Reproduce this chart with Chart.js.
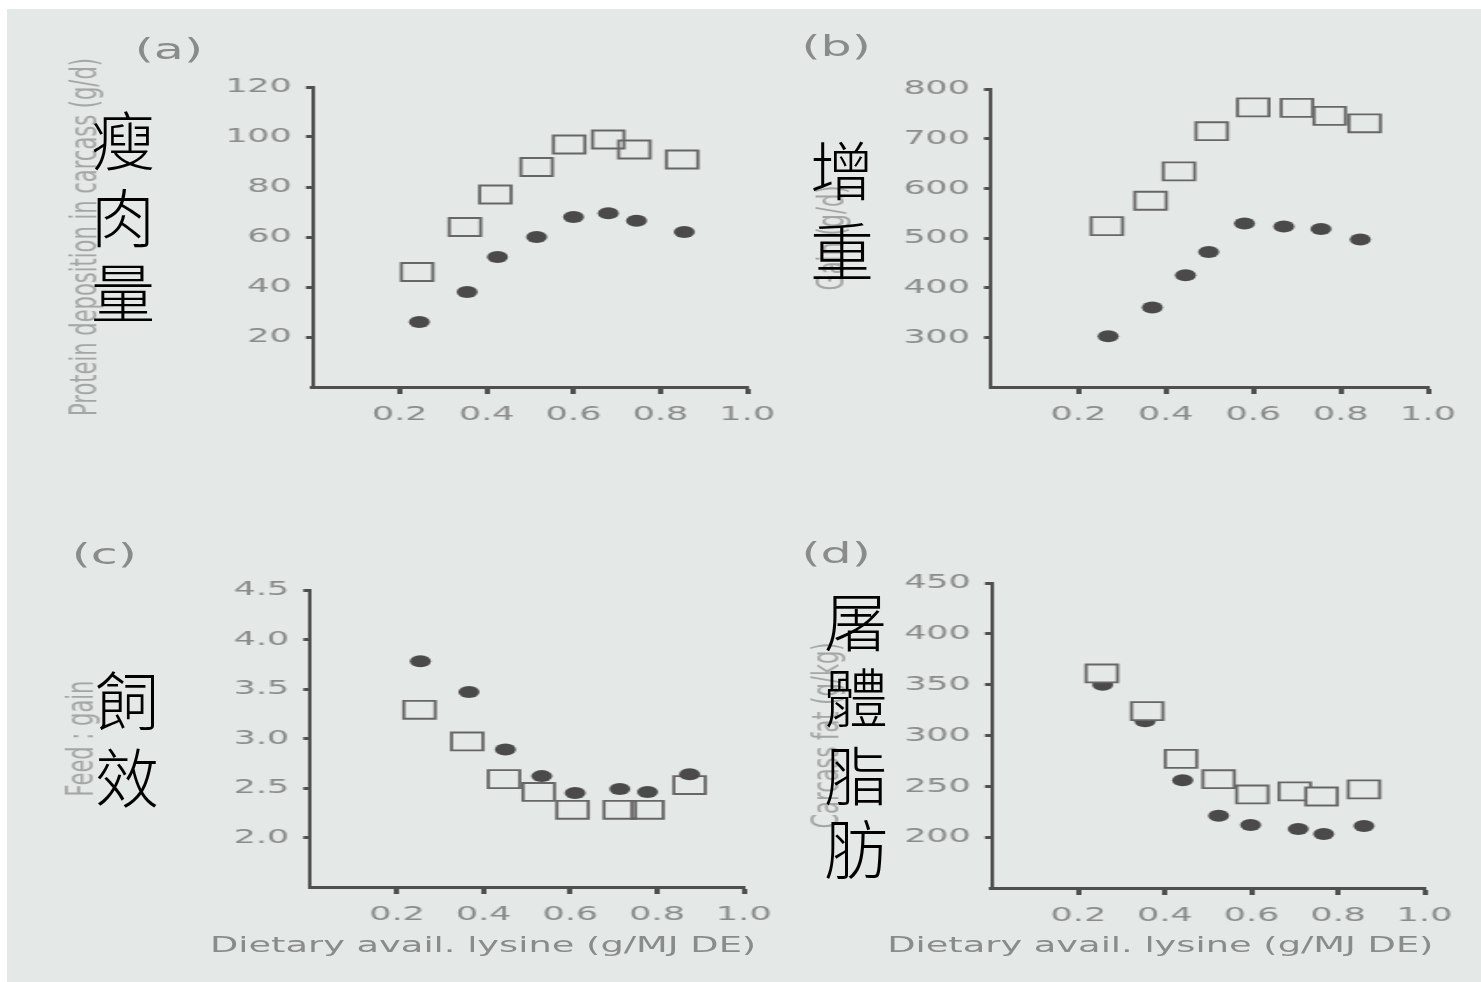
<!DOCTYPE html>
<html>
<head>
<meta charset="utf-8">
<script src="https://cdn.jsdelivr.net/npm/chart.js@4.4.1/dist/chart.umd.min.js"></script>
<style>
  body { margin: 0; background: #fff; width: 1481px; height: 982px; overflow: hidden; position: relative; }
  #paper { position: absolute; left: 7px; top: 9px; right: 0; bottom: 0; background: #e4e8e6; }
  #stage { position: absolute; left: 0; top: 0; width: 847px; height: 982px; transform: scaleX(1.75); transform-origin: 0 0; }
  #stage canvas { position: absolute; }
  .lbl { position: absolute; font-family: "DejaVu Sans", sans-serif; color: #8a8c8b; white-space: nowrap; line-height: 1; }
  .big { position: absolute; width: 90px; text-align: center; font-family: "Noto Sans CJK TC", sans-serif; font-weight: 300; font-size: 64px; line-height: 64px; color: #000; }
</style>
</head>
<body>
<div id="paper"></div>
<div id="stage">
  <canvas id="chartA" width="415" height="385" style="left:36.5px;top:42px"></canvas>
  <canvas id="chartB" width="377" height="383" style="left:464px;top:44px"></canvas>
  <canvas id="chartC" width="415" height="382" style="left:34.8px;top:545px"></canvas>
  <canvas id="chartD" width="378" height="390" style="left:460.5px;top:538px"></canvas>
  <div class="lbl" style="left:77px;top:36px;font-size:28px">(a)</div>
  <div class="lbl" style="left:458px;top:33px;font-size:28px">(b)</div>
  <div class="lbl" style="left:41px;top:541px;font-size:28px">(c)</div>
  <div class="lbl" style="left:458px;top:540px;font-size:28px">(d)</div>
  <div class="lbl" style="left:120px;top:935px;font-size:21px">Dietary avail. lysine (g/MJ DE)</div>
  <div class="lbl" style="left:507px;top:935px;font-size:21px">Dietary avail. lysine (g/MJ DE)</div>
</div>
<div id="zh"></div>

<script>
// x ticks shared by all four panels
const xTicks = [0.2, 0.4, 0.6, 0.8, 1.0];

// (a) protein deposition
const aSqX = [0.24, 0.35, 0.42, 0.515, 0.59, 0.68, 0.74, 0.85];
const aSqY = [46, 64, 77, 88, 97, 99, 95, 91];
const aDotX = [0.245, 0.355, 0.425, 0.515, 0.60, 0.68, 0.745, 0.855];
const aDotY = [26, 38, 52, 60, 68, 69.5, 66.5, 62];
const aTicks = [20, 40, 60, 80, 100, 120];

// (b) gain
const bSqX = [0.265, 0.365, 0.43, 0.505, 0.60, 0.70, 0.775, 0.855];
const bSqY = [524, 575, 634, 715, 763, 762, 746, 731];
const bDotX = [0.268, 0.369, 0.445, 0.498, 0.58, 0.67, 0.755, 0.845];
const bDotY = [302, 360, 425, 472, 529, 523, 518, 497];
const bTicks = [300, 400, 500, 600, 700, 800];

// (c) feed : gain
const cSqX = [0.252, 0.362, 0.447, 0.527, 0.605, 0.714, 0.778, 0.875];
const cSqY = [3.29, 2.97, 2.59, 2.46, 2.28, 2.28, 2.28, 2.53];
const cDotX = [0.254, 0.366, 0.45, 0.534, 0.611, 0.714, 0.778, 0.875];
const cDotY = [3.78, 3.47, 2.89, 2.62, 2.45, 2.49, 2.46, 2.64];
const cTicks = [2.0, 2.5, 3.0, 3.5, 4.0, 4.5];

// (d) carcass fat
const dSqX = [0.254, 0.359, 0.437, 0.524, 0.602, 0.70, 0.762, 0.86];
const dSqY = [361, 324, 277, 257, 242, 245, 240, 247];
const dDotX = [0.256, 0.354, 0.441, 0.524, 0.598, 0.708, 0.767, 0.86];
const dDotY = [350, 314, 256, 221, 212, 208, 203, 211];
const dTicks = [200, 250, 300, 350, 400, 450];

const axisColor = '#4f4f4f';
const tickText = '#8a8c8b';
const titleText = '#a3a6a4';
const bg = '#e4e8e6';

const pts = (xs, ys) => xs.map((x, i) => ({ x: x, y: ys[i] }));

const makePanel = (id, p) => {
    const ctx = document.getElementById(id).getContext('2d');
    return new Chart(ctx, {
        type: 'scatter',
        data: {
            datasets: [{
                data: pts(p.sqX, p.sqY),
                pointStyle: 'rect',
                pointRadius: 12.7,
                borderWidth: 1.8,
                borderColor: '#666',
                backgroundColor: p.sqFill,
                order: p.sqOrder
            }, {
                data: pts(p.dotX, p.dotY),
                pointStyle: 'circle',
                pointRadius: 6,
                borderWidth: 0,
                backgroundColor: '#4a4a4a',
                order: 1 - p.sqOrder
            }]
        },
        options: {
            responsive: false,
            animation: false,
            events: [],
            layout: { padding: { left: 0, right: 25, top: 45, bottom: 0 } },
            plugins: { legend: { display: false }, tooltip: { enabled: false } },
            scales: {
                x: {
                    type: 'linear', min: 0, max: 1,
                    afterBuildTicks: s => { s.ticks = xTicks.map(v => ({ value: v })); },
                    afterFit: s => { s.height = 40; },
                    grid: { drawOnChartArea: false, tickLength: 7, tickWidth: 3, tickColor: axisColor },
                    border: { color: axisColor, width: 3 },
                    ticks: { padding: 9, color: tickText, font: { family: 'DejaVu Sans', size: 20 }, callback: v => v.toFixed(1) }
                },
                y: {
                    type: 'linear', min: p.yMin, max: p.yMax,
                    afterBuildTicks: s => { s.ticks = p.yTicks.map(v => ({ value: v })); },
                    afterFit: s => { s.width = p.yW; },
                    grid: { drawOnChartArea: false, tickLength: 4, tickWidth: 3, tickColor: axisColor },
                    border: { color: axisColor, width: 2 },
                    ticks: { padding: 8, color: tickText, font: { family: 'DejaVu Sans', size: 20 }, callback: v => v.toFixed(p.dec) },
                    title: { display: true, text: p.title, color: titleText, padding: 0, font: { family: 'DejaVu Sans', size: 21 } }
                }
            }
        }
    });
};

makePanel('chartA', { sqX: aSqX, sqY: aSqY, dotX: aDotX, dotY: aDotY, yTicks: aTicks, yMin: 0, yMax: 120, dec: 0,
    yW: 141.8, title: 'Protein deposition in carcass (g/d)', sqFill: 'rgba(0,0,0,0)', sqOrder: 1 });
makePanel('chartB', { sqX: bSqX, sqY: bSqY, dotX: bDotX, dotY: bDotY, yTicks: bTicks, yMin: 200, yMax: 800, dec: 0,
    yW: 102.3, title: 'Gain (g/d)', sqFill: 'rgba(0,0,0,0)', sqOrder: 1 });
makePanel('chartC', { sqX: cSqX, sqY: cSqY, dotX: cDotX, dotY: cDotY, yTicks: cTicks, yMin: 1.5, yMax: 4.5, dec: 1,
    yW: 142.3, title: 'Feed : gain', sqFill: 'rgba(0,0,0,0)', sqOrder: 1 });
makePanel('chartD', { sqX: dSqX, sqY: dSqY, dotX: dDotX, dotY: dDotY, yTicks: dTicks, yMin: 150, yMax: 450, dec: 0,
    yW: 105.8, title: 'Carcass fat (g/kg)', sqFill: bg, sqOrder: 0 });

// Chinese labels written over the English axis titles
const zhLabels = [
    { chars: '瘦肉量', x: 123, y: [140, 217, 292] },
    { chars: '增重', x: 842, y: [170, 251] },
    { chars: '飼效', x: 127, y: [700, 777] },
    { chars: '屠體脂肪', x: 856, y: [621, 697, 775, 848] }
];
const zh = document.getElementById('zh');
zhLabels.forEach(function (lab) {
    Array.from(lab.chars).forEach(function (ch, i) {
        const d = document.createElement('div');
        d.className = 'big';
        d.textContent = ch;
        d.style.left = (lab.x - 45) + 'px';
        d.style.top = (lab.y[i] - 35) + 'px';
        zh.appendChild(d);
    });
});
</script>
</body>
</html>
